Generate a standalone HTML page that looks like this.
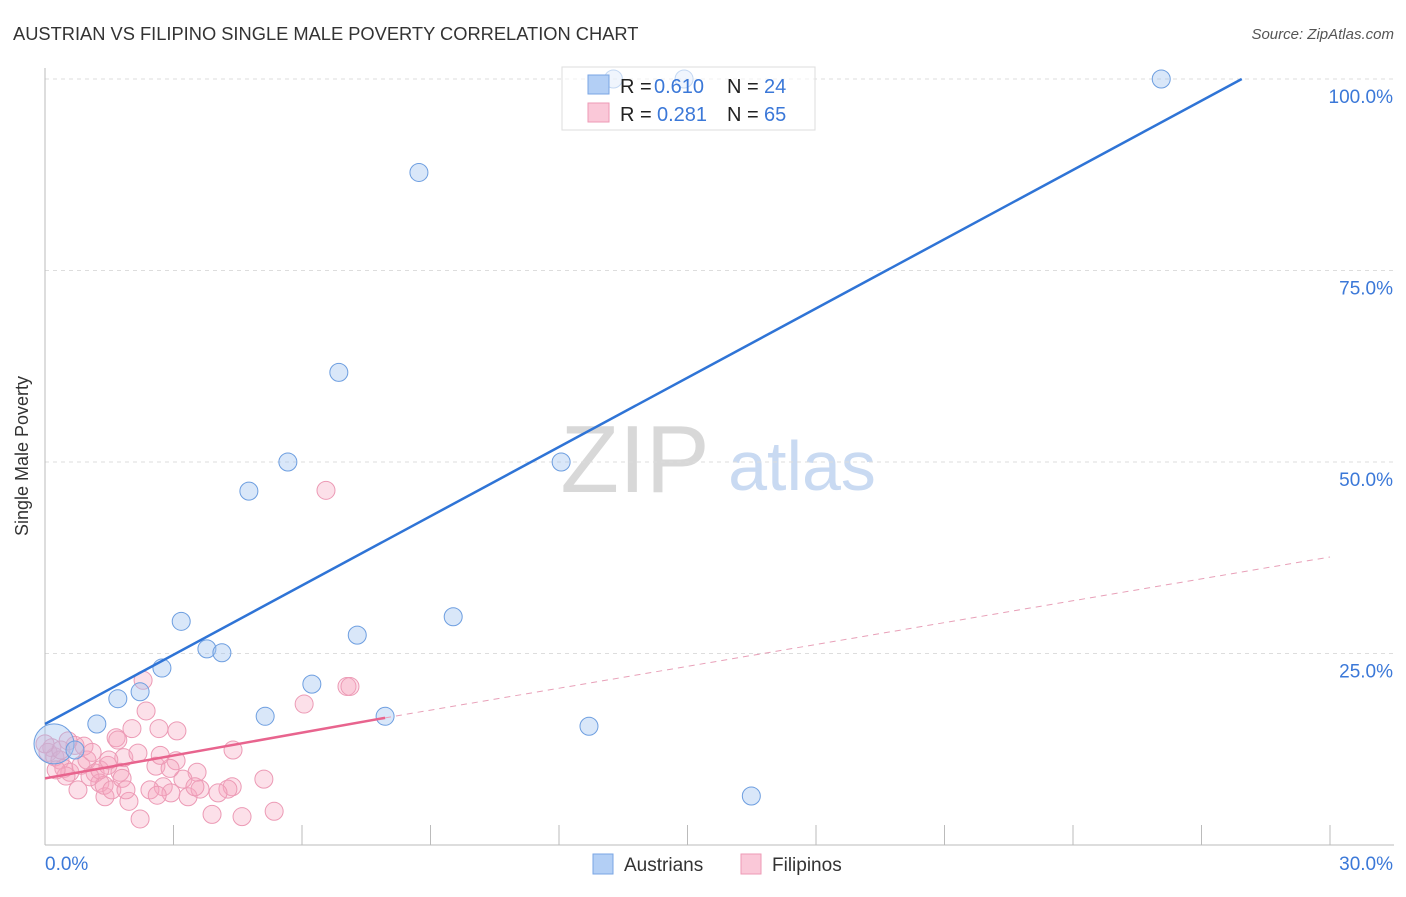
<!DOCTYPE html>
<html><head><meta charset="utf-8"><style>
body{margin:0;background:#fff;font-family:"Liberation Sans",sans-serif;}
svg text{font-family:"Liberation Sans",sans-serif;}
</style></head><body>
<svg id="c" width="1406" height="892" xmlns="http://www.w3.org/2000/svg">
<text x="13" y="40" font-size="18.3" fill="#333">AUSTRIAN VS FILIPINO SINGLE MALE POVERTY CORRELATION CHART</text>
<text x="1394" y="39" font-size="15" fill="#555" font-style="italic" text-anchor="end">Source: ZipAtlas.com</text>
<text x="28" y="456" font-size="18" fill="#333" text-anchor="middle" transform="rotate(-90 28 456)">Single Male Poverty</text>
<g><text x="635" y="492" font-size="96" fill="#d8d8d8" font-family="Liberation Serif" text-anchor="middle">ZIP</text><text x="802" y="490" font-size="70" fill="#c9daf2" text-anchor="middle">atlas</text></g>
<g id="grid"></g><g id="axes"></g><g id="marks"></g>
<g>
<rect x="562" y="67" width="253" height="63" fill="#fff" fill-opacity="0.6" stroke="#ddd"/>
<rect x="588" y="75" width="21" height="19" fill="#b3cff5" stroke="#7aa6e4"/>
<rect x="588" y="103" width="21" height="19" fill="#fac8d8" stroke="#ee9ab6"/>
<text x="620" y="93" font-size="20" fill="#222">R =</text><text x="654" y="93" font-size="20" fill="#3b78d8">0.610</text>
<text x="727" y="93" font-size="20" fill="#222">N =</text><text x="764" y="93" font-size="20" fill="#3b78d8">24</text>
<text x="620" y="121" font-size="20" fill="#222">R =</text><text x="657" y="121" font-size="20" fill="#3b78d8">0.281</text>
<text x="727" y="121" font-size="20" fill="#222">N =</text><text x="764" y="121" font-size="20" fill="#3b78d8">65</text>
</g>
<g>
<rect x="593" y="854" width="20" height="20" fill="#b3cff5" stroke="#7aa6e4"/>
<text x="624" y="871" font-size="19" fill="#333">Austrians</text>
<rect x="741" y="854" width="20" height="20" fill="#fac8d8" stroke="#ee9ab6"/>
<text x="772" y="871" font-size="19" fill="#333">Filipinos</text>
</g>
</svg>
<script>
const yTicks=[25,50,75,100];
const yTickLabels=["25.0%","50.0%","75.0%","100.0%"];
const xTicks=[0,3,6,9,12,15,18,21,24,27,30];
const blueX=[0.21,1.21,1.70,2.22,2.73,3.18,3.78,4.13,4.76,5.67,5.14,6.23,6.86,7.29,8.73,9.53,12.05,12.70,16.49,26.06,14.92,13.27,0.70,7.94];
const blueY=[13.2,15.8,19.1,20.0,23.1,29.2,25.6,25.1,46.2,50.0,16.8,21.0,61.7,27.4,87.8,29.8,50.0,15.5,6.4,100,100,100,12.4,16.8];
const pinkX=[2.29,2.03,2.36,2.66,3.08,1.66,1.84,2.17,3.06,2.59,3.55,3.22,1.40,1.96,2.22,3.90,4.60,5.35,4.37,4.27,2.76,2.94,2.45,3.34,5.11,4.39,7.05,7.12,6.05,6.56,0.16,0.23,0.07,0.35,0.44,0.58,0.70,0.84,0.98,1.17,1.28,1.38,1.56,1.75,1.80,0.91,1.10,1.47,1.70,0.49,0.77,1.05,1.28,1.89,2.92,3.62,4.04,3.50,2.62,0.37,0.54,0.0,0.26,1.49,2.69];
const pinkY=[21.5,15.2,17.5,15.2,14.9,14.0,11.4,12.0,11.0,10.3,9.5,8.6,6.3,5.7,3.4,4.0,3.7,4.4,7.6,7.3,7.6,6.8,7.2,6.3,8.6,12.4,20.7,20.7,18.4,46.3,12.7,11.5,12.1,11.1,10.0,9.5,13.0,10.4,11.1,9.4,8.1,7.8,7.2,9.5,8.7,12.9,12.1,10.4,13.7,9.0,7.2,8.9,9.8,7.2,10.0,7.3,6.8,7.6,6.5,12.4,13.6,13.2,9.8,11.1,11.7];
const blueLine=[0,15.8,27.94,100];
const pinkLine=[0,8.7,7.94,16.6];
const pinkDash=[7.94,16.6,30,37.6];
const X=v=>45+v/30*1285, Y=v=>845-v/100*766;
const NS="http://www.w3.org/2000/svg";
function mk(p,t,a){const e=document.createElementNS(NS,t);for(const k in a)e.setAttribute(k,a[k]);document.getElementById(p).appendChild(e);return e;}
yTicks.forEach((t,i)=>{
 const l=mk('grid','line',{x1:45,x2:1394,y1:Y(t),y2:Y(t),stroke:'#ddd','stroke-dasharray':'4,4'});
 
 
 const tx=mk('axes','text',{x:1393,y:Y(t)+24,'font-size':19,fill:'#3b78d8','text-anchor':'end'});
 tx.textContent=yTickLabels[i];
 
 
});
let ax=mk('axes','line',{x1:45,x2:45,y1:68,y2:845,stroke:'#bbb'});


ax=mk('axes','line',{x1:45,x2:1394,y1:845,y2:845,stroke:'#bbb'});


xTicks.slice(1).forEach(t=>{
 const l=mk('axes','line',{x1:X(t),x2:X(t),y1:825,y2:845,stroke:'#bbb'});
 
 
});
let t0=mk('axes','text',{x:45,y:870,'font-size':19,fill:'#3b78d8'});t0.textContent='0.0%';


let t1=mk('axes','text',{x:1393,y:870,'font-size':19,fill:'#3b78d8','text-anchor':'end'});t1.textContent='30.0%';


pinkX.forEach((x,i)=>{
 const c=mk('marks','circle',{cx:X(x),cy:Y(pinkY[i]),r:9,fill:'rgba(245,165,192,0.35)',stroke:'#ec9ab5','stroke-width':1});
 
 
});
blueX.forEach((x,i)=>{
 const c=mk('marks','circle',{cx:X(x),cy:Y(blueY[i]),r:i==0?20:9,fill:'rgba(160,196,240,0.4)',stroke:'#6d9ee0','stroke-width':1});
 
 
});
let L=mk('marks','line',{x1:X(blueLine[0]),y1:Y(blueLine[1]),x2:X(blueLine[2]),y2:Y(blueLine[3]),stroke:'#2f74d6','stroke-width':2.5});


L=mk('marks','line',{x1:X(pinkLine[0]),y1:Y(pinkLine[1]),x2:X(pinkLine[2]),y2:Y(pinkLine[3]),stroke:'#e8648e','stroke-width':2.5});


L=mk('marks','line',{x1:X(pinkDash[0]),y1:Y(pinkDash[1]),x2:X(pinkDash[2]),y2:Y(pinkDash[3]),stroke:'#e8a0b8','stroke-width':1,'stroke-dasharray':'6,5'});


</script>
</body></html>
